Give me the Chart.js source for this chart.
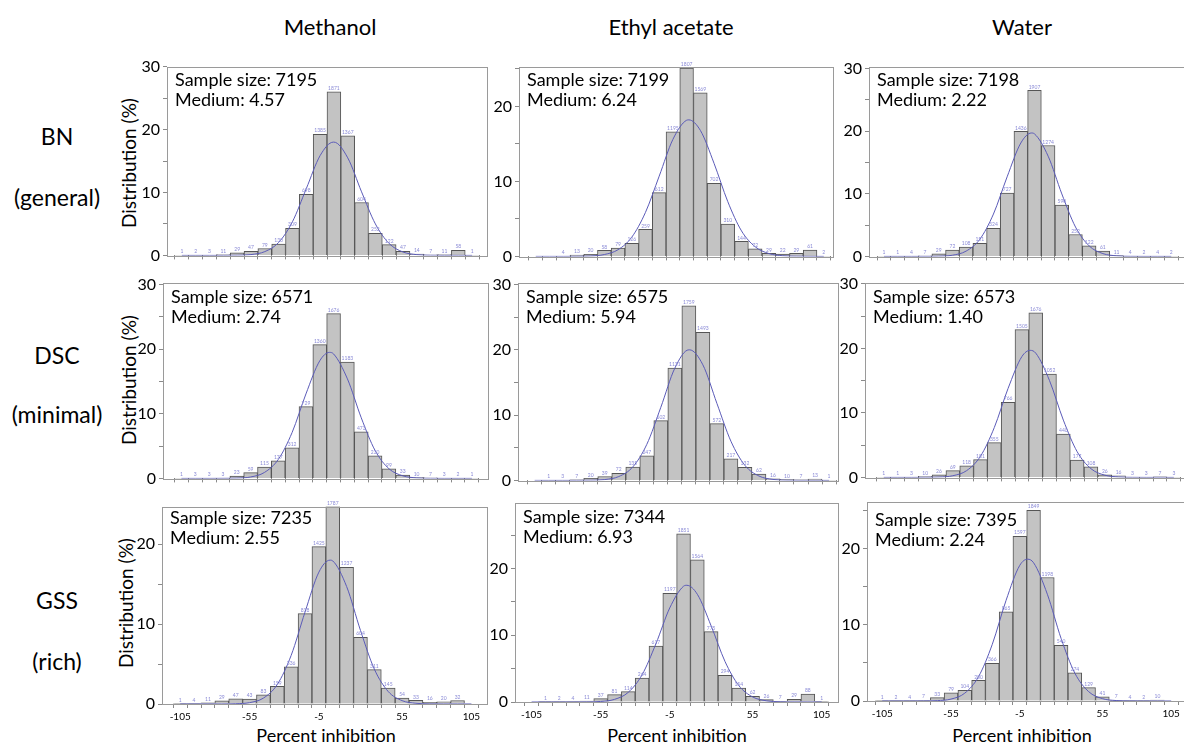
<!DOCTYPE html>
<html>
<head>
<meta charset="utf-8">
<script src="https://cdn.jsdelivr.net/npm/chart.js@4.4.0/dist/chart.umd.min.js"></script>
<style>
  html, body { margin: 0; padding: 0; background: #fff; overflow: hidden; }
  body { width: 1184px; height: 747px; position: relative; font-family: Lato, "Open Sans", sans-serif; color: #000; }
  canvas { position: absolute; }
  .lbl { position: absolute; transform: translate(-50%, -50%); white-space: nowrap; line-height: 1; }
  .ttl { font-size: 22px; }
  .row { font-size: 23px; }
  .yt { font-size: 19px; transform: translate(-50%, -50%) rotate(-90deg); }
  .xt { font-size: 18px; }
</style>
</head>
<body>
<script>
// ---- data ----
const solvents = ['Methanol', 'Ethyl acetate', 'Water'];
const rowNames = [['BN', '(general)'], ['DSC', '(minimal)'], ['GSS', '(rich)']];
const binCenters = [-105, -95, -85, -75, -65, -55, -45, -35, -25, -15, -5, 5, 15, 25, 35, 45, 55, 65, 75, 85, 95, 105];
const xTickLabels = ['-105', '-55', '-5', '55', '105'];
const yTicks = [0, 5, 10, 15, 20, 25, 30];
const yTickLabels = ['0', '10', '20', '30'];

const sampleSizes = [[7195, 7199, 7198], [6571, 6575, 6573], [7235, 7344, 7395]];
const medians = [['4.57', '6.24', '2.22'], ['2.74', '5.94', '1.40'], ['2.55', '6.93', '2.24']];

// histogram bars, % per 10-unit bin
const bnMethanol = [0.02, 0.03, 0.04, 0.15, 0.4, 0.65, 1.1, 1.8, 4.3, 9.7, 19.25, 26.0, 19.0, 8.4, 3.5, 1.7, 0.65, 0.2, 0.1, 0.15, 0.8, 0.02];
const bnEthyl = [0, 0, 0.05, 0.18, 0.28, 0.8, 1.1, 1.75, 3.6, 8.5, 16.6, 25.1, 21.8, 9.75, 4.3, 2.0, 1.0, 0.4, 0.3, 0.4, 0.85, 0.03];
const bnWater = [0.02, 0.02, 0.05, 0.1, 0.4, 1.0, 1.5, 2.1, 4.5, 10.1, 19.95, 26.5, 17.7, 8.2, 3.5, 1.7, 0.85, 0.15, 0.05, 0.03, 0.05, 0.03];
const dscMethanol = [0.02, 0.05, 0.05, 0.05, 0.35, 0.9, 1.75, 2.7, 4.75, 11.1, 20.7, 25.5, 18.0, 7.2, 3.5, 1.5, 0.5, 0.15, 0.1, 0.05, 0.03, 0.02];
const dscEthyl = [0, 0.02, 0.05, 0.1, 0.3, 0.6, 1.1, 2.05, 3.75, 9.15, 17.2, 26.75, 22.7, 8.7, 3.3, 2.0, 0.95, 0.25, 0.15, 0.1, 0.2, 0.02];
const dscWater = [0.02, 0.02, 0.05, 0.15, 0.4, 1.05, 1.8, 2.75, 5.4, 11.65, 22.9, 25.5, 16.0, 6.7, 2.7, 1.65, 0.4, 0.25, 0.05, 0.05, 0.1, 0.05];
const gssMethanol = [0.02, 0.05, 0.15, 0.4, 0.65, 0.6, 1.15, 2.2, 4.65, 11.3, 19.7, 24.7, 17.1, 8.35, 4.3, 2.0, 0.75, 0.45, 0.22, 0.28, 0.44, 0];
const gssEthyl = [0, 0.02, 0.03, 0.05, 0.15, 0.5, 1.1, 1.55, 3.6, 8.4, 16.3, 25.2, 21.3, 10.55, 4.0, 2.1, 0.85, 0.35, 0.1, 0.4, 1.2, 0.02];
const gssWater = [0.02, 0.03, 0.05, 0.1, 0.45, 1.07, 1.4, 2.7, 4.95, 11.7, 21.6, 25.0, 16.2, 7.3, 3.7, 1.75, 0.55, 0.1, 0.05, 0.03, 0.13, 0];

// fitted normal curve, height read at each bin centre, plus its peak
const bnMethanolFit = [0, 0, 0, 0, 0.02, 0.13, 0.6, 2.05, 5.35, 10.6, 15.85, 18.0, 15.5, 10.1, 5.0, 1.88, 0.54, 0.12, 0.02, 0, 0, 0];
const bnEthylFit = [0, 0, 0, 0.01, 0.05, 0.25, 0.89, 2.56, 5.87, 10.7, 15.6, 18.15, 16.8, 12.4, 7.3, 3.4, 1.28, 0.38, 0.09, 0.02, 0, 0];
const bnWaterFit = [0, 0, 0, 0, 0.03, 0.19, 0.84, 2.72, 6.76, 12.7, 18.1, 19.56, 16.0, 9.97, 4.69, 1.67, 0.45, 0.09, 0.01, 0, 0, 0];
const dscMethanolFit = [0, 0, 0, 0.01, 0.04, 0.22, 0.92, 2.93, 7.1, 13.07, 18.2, 19.26, 15.4, 9.38, 4.32, 1.5, 0.4, 0.08, 0.01, 0, 0, 0];
const dscEthylFit = [0, 0, 0, 0, 0.02, 0.13, 0.59, 2.06, 5.52, 11.2, 17.2, 20.0, 17.7, 11.8, 6.0, 2.3, 0.67, 0.15, 0.02, 0, 0, 0];
const dscWaterFit = [0, 0, 0, 0.01, 0.05, 0.26, 1.05, 3.28, 7.72, 13.8, 18.74, 19.27, 15.0, 8.88, 3.98, 1.35, 0.35, 0.07, 0.01, 0, 0, 0];
const gssMethanolFit = [0, 0, 0, 0, 0.03, 0.17, 0.74, 2.44, 6.08, 11.5, 16.5, 17.9, 14.7, 9.2, 4.36, 1.56, 0.42, 0.09, 0.01, 0, 0, 0];
const gssEthylFit = [0, 0, 0, 0, 0.01, 0.08, 0.39, 1.45, 4.09, 8.73, 14.1, 17.36, 16.15, 11.4, 6.08, 2.47, 0.76, 0.18, 0.03, 0, 0, 0];
const gssWaterFit = [0, 0, 0, 0.01, 0.05, 0.25, 1.03, 3.19, 7.44, 13.2, 17.8, 18.13, 14.0, 8.2, 3.65, 1.23, 0.31, 0.06, 0.01, 0, 0, 0];
const fitPeakX = [[4.6, 6.6, 2.8], [2.0, 5.5, 1.0], [3.0, 7.4, 0.7]];
const fitPeakY = [[18.0, 18.2, 19.7], [19.5, 20.0, 19.7], [18.0, 17.5, 18.6]];

const histograms = [[bnMethanol, bnEthyl, bnWater], [dscMethanol, dscEthyl, dscWater], [gssMethanol, gssEthyl, gssWater]];
const fits = [[bnMethanolFit, bnEthylFit, bnWaterFit], [dscMethanolFit, dscEthylFit, dscWaterFit], [gssMethanolFit, gssEthylFit, gssWaterFit]];

// ---- layout: plot box in page pixels and axis ranges for each panel ----
const boxes = [
  [{ l: 167, t: 62, r: 487, b: 263, xMin: -110.5, xMax: 110.5, yMax: 30, ty: 19 },
   { l: 519, t: 62, r: 833, b: 264, xMin: -112, xMax: 106.5, yMax: 25.3, ty: 19 },
   { l: 869, t: 62, r: 1186, b: 264, xMin: -110.7, xMax: 110.5, yMax: 30.3, ty: 19 }],
  [{ l: 163, t: 278, r: 488, b: 486, xMin: -113, xMax: 111.3, yMax: 30.3, ty: 20 },
   { l: 518, t: 278, r: 838, b: 488, xMin: -111.7, xMax: 106.2, yMax: 30.3, ty: 20 },
   { l: 865, t: 278, r: 1186, b: 485, xMin: -113.3, xMax: 108.5, yMax: 30.2, ty: 20 }],
  [{ l: 162, t: 502, r: 487, b: 704, xMin: -112.8, xMax: 110.9, yMax: 24.7, ty: 17 },
   { l: 515, t: 498, r: 838, b: 702, xMin: -111.7, xMax: 111.5, yMax: 29.9, ty: 20 },
   { l: 867, t: 497, r: 1186, b: 701, xMin: -110.8, xMax: 110.5, yMax: 26.15, ty: 24 }]
];

const FONT = 'Lato, "Open Sans", sans-serif';

function addLabel(text, cls, x, y) {
  const d = document.createElement('div');
  d.className = 'lbl ' + cls;
  d.textContent = text;
  d.style.left = x + 'px';
  d.style.top = y + 'px';
  document.body.appendChild(d);
}

const colTitleX = [330, 671, 1022];
solvents.forEach((s, i) => {
  addLabel(s, 'ttl', colTitleX[i], 27);
  addLabel('Percent inhibition', 'xt', [326, 677, 1022][i], 735);
});
const rowY = [[136, 197], [355, 414], [600, 661]];
rowNames.forEach((n, i) => {
  addLabel(n[0], 'row', 57, rowY[i][0]);
  addLabel(n[1], 'row', 57, rowY[i][1]);
  addLabel('Distribution (%)', 'yt', [128, 128, 125][i], [163, 380, 603][i]);
});

// frame round the plot area, sample text, count labels over the bars
const panelDecor = {
  id: 'panelDecor',
  afterDatasetsDraw(chart, args, opts) {
    const { ctx, chartArea: a } = chart;
    ctx.save();
    // tiny bar counts
    const meta = chart.getDatasetMeta(1);
    ctx.fillStyle = '#8a8ad6';
    ctx.font = '5px ' + FONT;
    ctx.textAlign = 'center';
    ctx.textBaseline = 'bottom';
    meta.data.forEach((bar, i) => {
      const v = opts.values[i];
      const n = Math.round(v * opts.n / 100);
      if (n < 1 || bar.x < a.left || bar.x > a.right) return;
      ctx.fillText(String(n), bar.x, bar.y - 1);
    });
    ctx.strokeStyle = '#9a9a9a';
    ctx.lineWidth = 1;
    ctx.strokeRect(Math.round(a.left) + 0.5, Math.round(a.top) + 0.5, Math.round(a.right - a.left), Math.round(a.bottom - a.top));
    ctx.fillStyle = '#000';
    ctx.font = '18px ' + FONT;
    ctx.textAlign = 'left';
    ctx.textBaseline = 'alphabetic';
    ctx.fillText('Sample size: ' + opts.n, a.left + 8, a.top + opts.ty);
    ctx.fillText('Medium: ' + opts.median, a.left + 8, a.top + opts.ty + 20);
    ctx.restore();
  }
};

function makePanel(r, c) {
  const box = boxes[r][c];
  const bottomRow = r === 2;
  const yw = 40, padTop = 8, padRight = 4;
  const xh = bottomRow ? 24 : 5;
  const w = box.r - box.l + yw + padRight;
  const h = box.b - box.t + padTop + xh;
  const cv = document.createElement('canvas');
  cv.width = w; cv.height = h;
  cv.style.left = (box.l - yw) + 'px';
  cv.style.top = (box.t - padTop) + 'px';
  cv.style.width = w + 'px';
  cv.style.height = h + 'px';
  document.body.appendChild(cv);

  const values = histograms[r][c];
  const fit = fits[r][c];
  const curve = binCenters.map((x, i) => ({ x: x, y: fit[i] }));
  curve.push({ x: fitPeakX[r][c], y: fitPeakY[r][c] });
  curve.sort((p, q) => p.x - q.x);

  new Chart(cv, {
    data: {
      datasets: [
        {
          type: 'line', data: curve, order: 0,
          borderColor: '#5b5bb8', borderWidth: 1, pointRadius: 0,
          cubicInterpolationMode: 'monotone'
        },
        {
          type: 'bar', data: binCenters.map((x, i) => ({ x: x, y: values[i] })), order: 1,
          backgroundColor: '#c3c3c3', borderColor: '#555', borderWidth: 1,
          barPercentage: 1, categoryPercentage: 1
        }
      ]
    },
    options: {
      responsive: false,
      animation: false,
      devicePixelRatio: 1,
      layout: { padding: { top: padTop, right: padRight, left: 0, bottom: 0 } },
      plugins: {
        legend: { display: false },
        tooltip: { enabled: false },
        panelDecor: { n: sampleSizes[r][c], median: medians[r][c], values: values, ty: box.ty }
      },
      scales: {
        x: {
          type: 'linear', min: box.xMin, max: box.xMax,
          afterBuildTicks: s => { s.ticks = binCenters.map(v => ({ value: v })); },
          afterFit: s => { s.height = xh; },
          border: { display: false },
          grid: { drawOnChartArea: false, drawTicks: true, tickLength: 4, color: '#8a8a8a' },
          ticks: {
            autoSkip: false, maxRotation: 0, minRotation: 0, padding: 3,
            color: '#000', font: { size: 10, family: FONT },
            callback: v => (bottomRow && xTickLabels.includes(String(v))) ? String(v) : ''
          }
        },
        y: {
          type: 'linear', min: 0, max: box.yMax,
          afterBuildTicks: s => { s.ticks = yTicks.filter(v => v <= box.yMax).map(v => ({ value: v })); },
          afterFit: s => { s.width = yw; },
          border: { display: false },
          grid: { drawOnChartArea: false, drawTicks: true, tickLength: 4, color: '#8a8a8a' },
          ticks: {
            padding: 3, color: '#000', font: { size: 16, family: FONT },
            callback: v => yTickLabels.includes(String(v)) ? String(v) : ''
          }
        }
      }
    },
    plugins: [panelDecor]
  });
}

for (let r = 0; r < 3; r++) {
  for (let c = 0; c < 3; c++) makePanel(r, c);
}
</script>
</body>
</html>
